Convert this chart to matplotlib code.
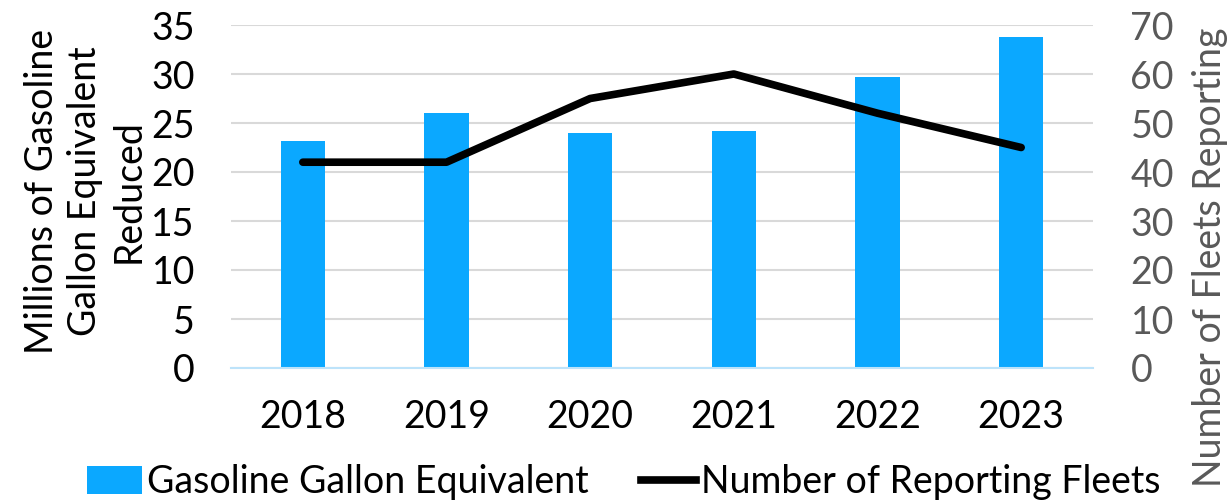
import matplotlib
matplotlib.use('Agg')
import matplotlib.pyplot as plt
from matplotlib.lines import Line2D
from matplotlib.patches import Patch

years = ['2018', '2019', '2020', '2021', '2022', '2023']
gge = [23.2, 26.0, 24.0, 24.2, 29.7, 33.8]
fleets = [42, 42, 55, 60, 52, 45]

plt.rcParams['font.family'] = ['Lato', 'DejaVu Sans']

W, H = 1232, 503
fig = plt.figure(figsize=(W / 100, H / 100), dpi=100)
ax = fig.add_axes([231 / W, 1 - 368 / H, 862 / W, 343 / H])
ax2 = ax.twinx()

x = list(range(len(years)))
ax.bar(x, gge, width=0.31, color='#0BA8FF', zorder=2)
ax2.plot(x, fleets, color='black', linewidth=5.5, solid_capstyle='round', zorder=3)

ax.set_xlim(-0.5, len(years) - 0.5)
ax.set_ylim(0, 35)
ax.set_yticks(range(0, 36, 5))
ax2.set_ylim(0, 70)
ax2.set_yticks(range(0, 71, 10))
ax.set_xticks(x)
ax.set_xticklabels(years)

ax.grid(axis='y', color='#D9D9D9', linewidth=1.5, zorder=0)
ax.set_axisbelow(True)
for a in (ax, ax2):
    for s in a.spines.values():
        s.set_visible(False)
ax.spines['bottom'].set_visible(True)
ax.spines['bottom'].set_color('#BDE3FA')
ax.spines['bottom'].set_linewidth(1.5)

ax.tick_params(axis='both', length=0, labelsize=27, colors='black')
ax.tick_params(axis='x', pad=22)
ax.tick_params(axis='y', pad=26)
ax2.tick_params(axis='y', length=0, labelsize=27, colors='#595959', pad=27)

# axis titles placed by hand to sit where the reference has them
fig.text(85 / W, 1 - 191 / H, 'Millions of Gasoline\nGallon Equivalent\nReduced',
         rotation=90, ha='center', va='center', fontsize=27, linespacing=1.25,
         multialignment='center')
fig.text(1210 / W, 1 - 257 / H, 'Number of Fleets Reporting', rotation=90,
         ha='center', va='center', fontsize=27, color='#595959')

handles = [Patch(facecolor='#0BA8FF'),
           Line2D([0], [0], color='black', linewidth=5.5)]
fig.legend(handles, ['Gasoline Gallon Equivalent', 'Number of Reporting Fleets'],
           loc='center', bbox_to_anchor=(624 / W, 1 - 482 / H), ncol=2, frameon=False,
           fontsize=27, handlelength=1.45, handleheight=0.75, handletextpad=0.15,
           columnspacing=1.4, borderpad=0)

fig.savefig('out.png', dpi=100)
